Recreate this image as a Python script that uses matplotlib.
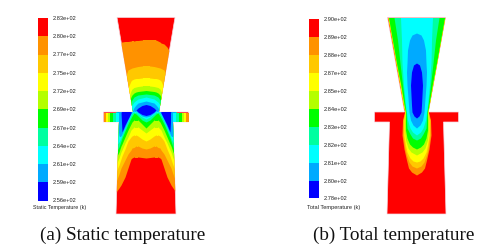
import numpy as np
import matplotlib
matplotlib.use('Agg')
import matplotlib.pyplot as plt
from matplotlib.patches import Polygon

RED = '#ff0000'
ORANGE = '#ff9200'
AMBER = '#ffc800'
YELLOW = '#ffff00'
LIME = '#b4ff00'
GREEN = '#00ff00'
AQUA = '#00ffa0'
CYAN = '#00ffff'
SKY = '#00aaff'
BLUE = '#0000ff'

# legend, top to bottom
band_colors = [RED, ORANGE, AMBER, YELLOW, LIME, GREEN, AQUA, CYAN, SKY, BLUE]
static_ticks = ['2.83e+02', '2.80e+02', '2.77e+02', '2.75e+02', '2.72e+02', '2.69e+02',
                '2.67e+02', '2.64e+02', '2.61e+02', '2.59e+02', '2.56e+02']
total_ticks = ['2.90e+02', '2.89e+02', '2.88e+02', '2.87e+02', '2.85e+02', '2.84e+02',
               '2.83e+02', '2.82e+02', '2.81e+02', '2.80e+02', '2.78e+02']

# nozzle outline, half width against depth (image pixels)
wall_y = [17.5, 112, 112, 122, 122, 214]
wall_static = [29, 13, 42.5, 42.5, 27, 30]
wall_total = [29, 12, 42, 42, 27, 29.5]

# static field, contours given as depth against distance from the axis
dx = [0, 4, 8, 10, 12, 14, 15, 18, 21, 24, 25, 27, 30]
orange_up_l = [40, 40, 40.5, 40.5, 41, 41, 41, 41.5, 41.5, 42, 42, 60, 70]
orange_up_r = [40, 40, 40, 40, 41, 42, 43, 44, 47, 52, 54, 70, 80]
orange_lo = [158, 157.5, 157, 157, 157, 158, 159, 168, 177, 183, 185, 188, 192]
amber_up = [66, 66, 66.5, 67, 67.5, 68, 68.5, 70, 78, 90, 90, 90, 90]
amber_lo = [149, 148, 146, 146, 147.5, 148, 150, 154, 160, 166, 168, 174, 182]
yellow_up = [78, 78, 78.5, 78.5, 79, 80, 81, 88, 100, 100, 100, 100, 100]
yellow_lo = [141, 139, 136, 135, 135, 136, 137, 141, 149, 156, 159, 165, 172]
lime_up = [86, 86, 86.5, 87, 87.5, 89, 91, 100, 105, 105, 105, 105, 105]
lime_lo = [133, 130, 127, 127, 127, 129, 130, 137, 143, 150, 152, 158, 165]
green_up = [90.5, 91, 91.5, 92, 93, 95, 97, 105, 108, 108, 108, 108, 108]
green_lo = [128, 124, 120, 120, 120, 122, 124, 130, 137, 144, 146, 152, 158]
aqua_up = [94, 94.5, 95, 96, 97, 100, 102, 112, 112, 112, 112, 112, 112]
aqua_lo = [122, 120, 116, 114, 113, 116, 118, 124, 131, 138, 141, 147, 152]
cyan_up = [97, 98, 99, 100.5, 102, 105, 108, 112, 112, 112, 112, 112, 112]
cyan_lo = [119, 117, 114, 112, 112, 113, 115, 121, 128, 135, 138, 142, 146]
sky_up = [101, 102, 103, 105, 107.5, 112, 112, 112, 112, 112, 112, 112, 112]
sky_lo = [117, 116, 113, 111, 111, 112, 114, 120, 127, 134, 136, 136, 112]
blue_up = [104.5, 105.5, 108, 110, 110.5, 111, 112, 112, 112, 112, 112, 112, 112]
blue_lo = [115.5, 114.5, 112, 110, 110.5, 111, 113, 119, 125, 132, 112, 112, 112]

static_up = [orange_up_l, amber_up, yellow_up, lime_up, green_up, aqua_up, cyan_up, sky_up, blue_up]
static_lo = [orange_lo, amber_lo, yellow_lo, lime_lo, green_lo, aqua_lo, cyan_lo, sky_lo, blue_lo]

# stripes in the static flange wings, colour ends at this distance
wing_edges = [25, 27, 30, 33, 36, 38, 40, 42.5]
wing_colors = [SKY, CYAN, AQUA, GREEN, LIME, YELLOW, ORANGE]

# total field, half width of each contour against depth
wedge_y = [17.5, 40, 63, 85, 105, 112]
orange_y = wedge_y + [120, 135, 149, 160, 168, 172, 175]
orange_w = [29, 25, 21, 17, 13.4, 12, 14, 14.5, 12.5, 10, 8, 5, 0]
amber_y = wedge_y + [120, 135, 149, 155, 162, 166, 168]
amber_w = [28.6, 24.6, 20.6, 16.6, 13.2, 11.7, 13.5, 13.5, 11.5, 10, 7.5, 4.5, 0]
yellow_y = wedge_y + [120, 135, 145, 152, 158, 161, 162]
yellow_w = [28.3, 24.3, 20.3, 16.3, 13, 11.5, 12.5, 12.5, 11, 9.5, 6.5, 3.5, 0]
lime_y = wedge_y + [120, 130, 140, 148, 152, 155]
lime_w = [28, 24, 20, 16, 12.7, 11.2, 12, 12, 11, 8.5, 5.5, 0]
green_y = wedge_y + [120, 130, 138, 144, 147, 149]
green_w = [28, 24, 20, 15.7, 12.4, 11, 11, 11, 9.5, 7, 4, 0]
aqua_y = wedge_y + [120, 128, 134, 138, 140]
aqua_w = [22.5, 19, 16.5, 14, 11.5, 10.5, 10, 9.5, 6.5, 4, 0]
cyan_y = wedge_y + [120, 128, 132, 135]
cyan_w = [16, 15, 14.5, 13, 11, 10, 9, 6.5, 4, 0]
sky_y = [33, 35, 40, 50, 63, 72, 85, 105, 112, 120, 125, 128]
sky_w = [0, 4.5, 7, 9, 9.5, 10, 9.5, 8, 7.5, 6, 3.5, 0]
blue_y = [63, 65, 72, 85, 105, 112, 116, 118]
blue_w = [0, 3, 5, 6, 5, 4.5, 2.5, 0]
total_y = [orange_y, amber_y, yellow_y, lime_y, green_y, aqua_y, cyan_y, sky_y, blue_y]
total_w = [orange_w, amber_w, yellow_w, lime_w, green_w, aqua_w, cyan_w, sky_w, blue_w]


def nozzle(ax, cx, half):
    half = np.array(half)
    xs = np.concatenate([cx - half, (cx + half)[::-1]])
    ys = np.concatenate([wall_y, wall_y[::-1]])
    p = Polygon(np.column_stack([xs, ys]), closed=True, fc=RED, ec='#f4d8e0', lw=0.5, zorder=1)
    ax.add_patch(p)
    return p


def legend(pos, ticks):
    # one bar per colour, ticks on the band edges
    cax = fig.add_axes(pos)
    n = len(band_colors)
    cax.barh(np.arange(n) + 0.5, 1, height=1, color=band_colors, linewidth=0)
    cax.set_xlim(0, 1)
    cax.set_ylim(n, 0)
    cax.set_xticks([])
    cax.yaxis.tick_right()
    cax.set_yticks(np.arange(n + 1), labels=ticks, fontsize=4.1, color='#222222', family='Liberation Sans')
    cax.tick_params(axis='y', length=0, pad=3.5)
    for s in cax.spines.values():
        s.set_visible(False)
    return cax


fig = plt.figure(figsize=(4.8, 2.52), dpi=100)
ax = fig.add_axes([0, 0, 1, 1])
ax.set_xlim(0, 480)
ax.set_ylim(252, 0)
ax.axis('off')

# (a) static temperature
cx = 146
dx = np.array(dx)
xs = np.concatenate([cx - dx[::-1], cx + dx[1:]])
outline = nozzle(ax, cx, wall_static)
for i, (up, lo) in enumerate(zip(static_up, static_lo)):
    right_up = orange_up_r if i == 0 else up
    ups = np.concatenate([np.array(up)[::-1], np.array(right_up)[1:]])
    los = np.concatenate([np.array(lo)[::-1], np.array(lo)[1:]])
    c = ax.fill_between(xs, ups, los, color=band_colors[i + 1], lw=0, zorder=2 + i)
    c.set_clip_path(outline)
for i, col in enumerate(wing_colors):
    for side in (-1, 1):
        ax.fill_between([cx + side * wing_edges[i], cx + side * wing_edges[i + 1]], 112.5, 121.5,
                        color=col, lw=0, zorder=12)

# (b) total temperature
cx = 416.5
outline = nozzle(ax, cx, wall_total)
for i, (y, w) in enumerate(zip(total_y, total_w)):
    w = np.array(w)
    c = ax.fill_betweenx(y, cx - w, cx + w, color=band_colors[i + 1], lw=0, zorder=2 + i)
    c.set_clip_path(outline)

legend([37.5 / 480, 1 - 200.5 / 252, 10.5 / 480, 182.5 / 252], static_ticks)
legend([308.5 / 480, 1 - 198.5 / 252, 10.5 / 480, 179.5 / 252], total_ticks)

ax.text(60, 207, 'Static Temperature (k)', fontsize=3.9, family='Liberation Sans', ha='center', va='center', color='#222222')
ax.text(333.5, 208, 'Total Temperature (k)', fontsize=4.1, family='Liberation Sans', ha='center', va='center', color='#222222')
ax.text(123, 235, '(a) Static temperature', fontsize=13.8, family='Liberation Serif', ha='center', va='center', color='#111111')
ax.text(393.5, 235, '(b) Total temperature', fontsize=13.8, family='Liberation Serif', ha='center', va='center', color='#111111')

fig.savefig('out.png', dpi=100)
